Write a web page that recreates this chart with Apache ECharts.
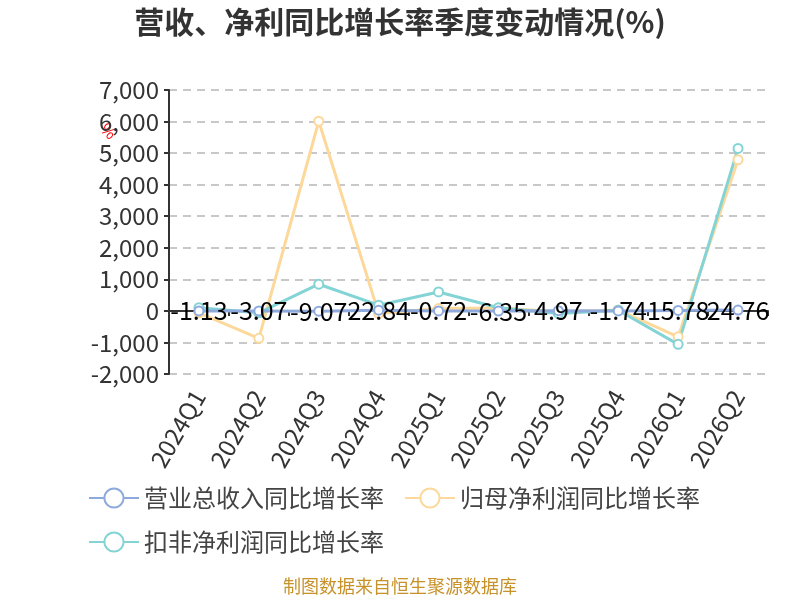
<!DOCTYPE html>
<html>
<head>
<meta charset="utf-8">
<script src="https://cdn.jsdelivr.net/npm/echarts@6/dist/echarts.min.js"></script>
<style>
    html,body{margin:0;padding:0;background:#fff;}
    #main{width:800px;height:600px;}
</style>
</head>
<body>
<div id="main"></div>
<script>
var quarters = ['2024Q1','2024Q2','2024Q3','2024Q4','2025Q1','2025Q2','2025Q3','2025Q4','2026Q1','2026Q2'];
var revenueYoy = [-1.13, -3.07, -9.07, 22.84, -0.72, -6.35, 4.97, -1.74, 15.78, 24.76];
var netProfitYoy = [-60, -870, 6010, -80, 75, 90, -30, 30, -820, 4790];
var deductedYoy = [100, -60, 845, 180, 600, 100, -80, 20, -1060, 5150];
var seriesNames = ['营业总收入同比增长率', '归母净利润同比增长率', '扣非净利润同比增长率'];

(function(){
    var chart = echarts.init(document.getElementById('main'));
    var font = '"Noto Sans CJK SC", "Noto Sans", sans-serif';
    var option = {
        backgroundColor: '#fff',
        textStyle: { fontFamily: font },
        title: {
            text: '营收、净利同比增长率季度变动情况(%)',
            left: 'center',
            top: 2,
            textStyle: { fontSize: 30, fontWeight: 'bold', color: '#333', fontFamily: font }
        },
        legend: {
            left: 83,
            top: 481,
            width: 700,
            itemWidth: 50,
            itemHeight: 24,
            itemGap: 20,
            textStyle: { fontSize: 24, color: '#444' },
            data: seriesNames
        },
        grid: {
            top: 90,
            left: 169,
            right: 32,
            bottom: 226
        },
        xAxis: {
            type: 'category',
            data: quarters,
            axisLine: { onZero: true, lineStyle: { color: '#333', width: 2 } },
            axisTick: { show: true, lineStyle: { color: '#333', width: 2 } },
            axisLabel: { rotate: 60, fontSize: 24, color: '#333', interval: 0, margin: 18 }
        },
        yAxis: {
            type: 'value',
            min: -2000,
            max: 7000,
            interval: 1000,
            axisLine: { show: true, lineStyle: { color: '#333', width: 2 } },
            axisTick: { show: true, lineStyle: { color: '#333', width: 2 } },
            axisLabel: { fontSize: 24, color: '#333', margin: 10 },
            splitLine: { lineStyle: { type: [8, 6], color: '#c8c8c8', width: 2 } }
        },
        graphic: [{
            type: 'text',
            left: 98,
            top: 120,
            rotation: -Math.PI / 4,
            style: { text: '%', fill: '#ff0000', font: '16px ' + font }
        }, {
            type: 'text',
            left: 'center',
            top: 577,
            style: { text: '制图数据来自恒生聚源数据库', fill: '#c8922a', font: '18px ' + font }
        }],
        series: [{
            name: seriesNames[0],
            type: 'line',
            data: revenueYoy,
            symbol: 'emptyCircle',
            symbolSize: 9,
            lineStyle: { width: 3, color: '#8eaadd' },
            itemStyle: { color: '#8eaadd' },
            label: { show: true, position: 'inside', fontSize: 25, color: '#000' },
            z: 3
        }, {
            name: seriesNames[1],
            type: 'line',
            data: netProfitYoy,
            symbol: 'emptyCircle',
            symbolSize: 9,
            lineStyle: { width: 3, color: '#fdd89b' },
            itemStyle: { color: '#fdd89b' },
            z: 2
        }, {
            name: seriesNames[2],
            type: 'line',
            data: deductedYoy,
            symbol: 'emptyCircle',
            symbolSize: 9,
            lineStyle: { width: 3, color: '#84d4d6' },
            itemStyle: { color: '#84d4d6' },
            z: 2
        }]
    };
    chart.setOption(option);
    window.addEventListener('resize', function(){
        chart.resize();
    });
})();
</script>
</body>
</html>
